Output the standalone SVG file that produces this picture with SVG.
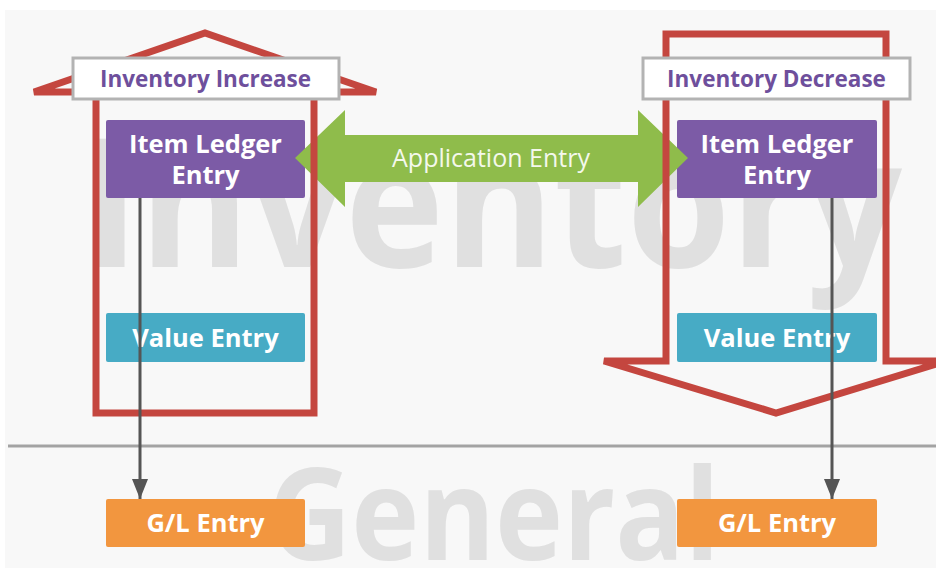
<svg xmlns="http://www.w3.org/2000/svg" width="936" height="568" viewBox="0 0 936 568">
<defs>
<style>
.lbl{font-family:"Open Sans","Noto Sans","Liberation Sans",sans-serif;font-weight:700;fill:#ffffff;text-anchor:middle;font-size:25.5px}
.ttl{font-family:"Open Sans","Noto Sans","Liberation Sans",sans-serif;font-weight:700;fill:#6e4f9c;text-anchor:middle;font-size:22.5px}
.wm{font-family:"Open Sans","Noto Sans","Liberation Sans",sans-serif;font-weight:700;fill:#e0e0e0}
.red{fill:none;stroke:#c4463f;stroke-width:7;stroke-linejoin:miter;stroke-miterlimit:2}
.tbox{fill:#ffffff;stroke:#b3b3b3;stroke-width:3}
.conn{stroke:#555555;stroke-width:3;fill:none}
</style>
<marker id="ah" viewBox="0 0 20 16" refX="20" refY="8" markerWidth="20" markerHeight="16" markerUnits="userSpaceOnUse" orient="auto">
<path d="M0,0 L20,8 L0,16 Z" fill="#555555"/>
</marker>
</defs>
<rect x="0" y="0" width="936" height="568" fill="#ffffff"/>
<rect x="5" y="10" width="931" height="558" fill="#f8f8f8"/>
<text class="wm" x="84" y="267" font-size="180" textLength="818" lengthAdjust="spacingAndGlyphs">Inventory</text>
<text class="wm" x="268" y="560" font-size="128" textLength="452" lengthAdjust="spacingAndGlyphs">General</text>
<line x1="8" y1="446" x2="936" y2="446" stroke="#a3a3a3" stroke-width="3"/>

<g id="ile-left">
<rect x="106" y="120" width="199" height="78" rx="2" fill="#7c5ba6"/>
<text class="lbl" x="205.5" y="153">Item Ledger</text>
<text class="lbl" x="205.5" y="184">Entry</text>
</g>
<g id="ile-right">
<rect x="677" y="120" width="200" height="78" rx="2" fill="#7c5ba6"/>
<text class="lbl" x="777" y="153">Item Ledger</text>
<text class="lbl" x="777" y="184">Entry</text>
</g>

<g id="application-entry">
<polygon points="295,158 345,110 345,135 638,135 638,110 688,158 638,207 638,182 345,182 345,207" fill="#8fbc4b"/>
<text x="491" y="167" font-family="Open Sans,Noto Sans,Liberation Sans,sans-serif" font-size="25" fill="#f4f8ec" text-anchor="middle">Application Entry</text>
</g>

<g id="inventory-increase">
<polygon class="red" points="96,413 96,92 34,92 205,33 376,92 314,92 314,413"/>
<rect class="tbox" x="73" y="58" width="266" height="41"/>
<text class="ttl" x="205.5" y="87">Inventory Increase</text>
</g>
<g id="inventory-decrease">
<polygon class="red" points="666,34 886,34 886,361 946,361 776,413 604,361 666,361"/>
<rect class="tbox" x="643" y="58" width="267" height="41"/>
<text class="ttl" x="776.5" y="87">Inventory Decrease</text>
</g>

<g id="ve-left">
<rect x="106" y="313" width="199" height="49" rx="2" fill="#47abc5"/>
<text class="lbl" x="205.5" y="347">Value Entry</text>
</g>
<g id="ve-right">
<rect x="677" y="313" width="200" height="49" rx="2" fill="#47abc5"/>
<text class="lbl" x="777" y="347">Value Entry</text>
</g>

<g id="connectors">
<line class="conn" x1="140" y1="198" x2="140" y2="499" marker-end="url(#ah)"/>
<line class="conn" x1="832" y1="198" x2="832" y2="499" marker-end="url(#ah)"/>
</g>

<g id="gl-left">
<rect x="106" y="499" width="199" height="48" rx="2" fill="#f2963f"/>
<text class="lbl" x="205.5" y="532">G/L Entry</text>
</g>
<g id="gl-right">
<rect x="677" y="499" width="200" height="48" rx="2" fill="#f2963f"/>
<text class="lbl" x="777" y="532">G/L Entry</text>
</g>
</svg>
